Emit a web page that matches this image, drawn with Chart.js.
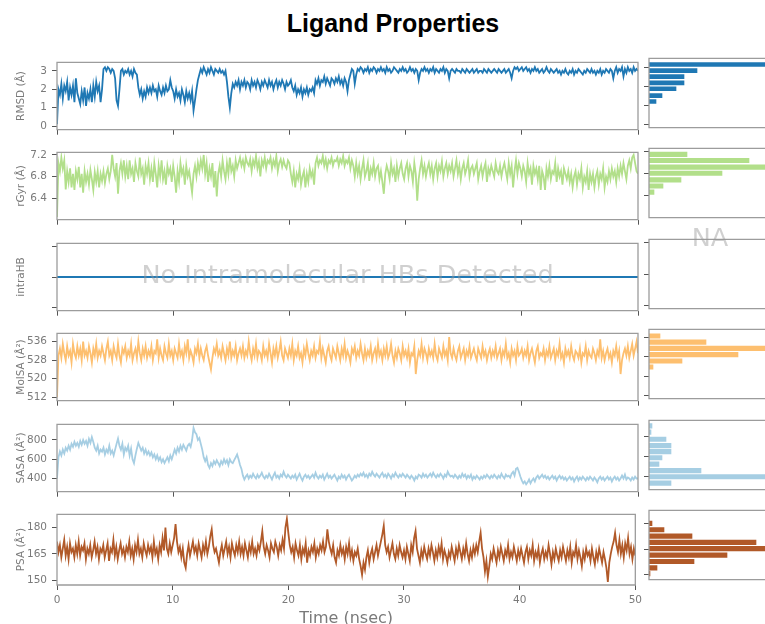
<!DOCTYPE html>
<html>
<head>
<meta charset="utf-8">
<script src="https://cdn.jsdelivr.net/npm/chart.js@4.4.1/dist/chart.umd.min.js"></script>
<style>
  html, body { margin: 0; padding: 0; background: #fff; overflow: hidden; }
  body { width: 765px; height: 624px; position: relative; }
  canvas { position: absolute; }
  #title {
    position: absolute; left: 0; top: 11px; width: 786px; text-align: center;
    font: bold 25px/25px "Liberation Sans", Arial, sans-serif; color: #000;
  }
</style>
</head>
<body>
<div id="title">Ligand Properties</div>
<script>
// time series, one frame every 0.125 ns from 0 to 50 ns (16 frames per row = 2 ns)
const rmsd = [
  0.1, 2.0, 1.7, 2.3, 1.5, 2.2, 1.9, 2.4, 1.4, 2.1, 1.7, 2.2, 1.3, 2.6, 1.8, 1.5,
  1.2, 1.9, 1.4, 2.1, 1.1, 1.8, 1.5, 2.0, 1.3, 2.2, 1.6, 2.4, 1.9, 2.2, 1.3, 2.0,
  3.1, 3.2, 3.0, 3.2, 3.1, 2.9, 3.1, 3.0, 2.6, 1.4, 1.1, 2.0, 3.0, 3.1, 2.8, 3.0,
  2.9, 3.1, 2.8, 3.0, 2.7, 3.1, 2.9, 2.8, 2.1, 1.7, 2.0, 1.5, 1.9, 1.6, 2.1, 1.8,
  2.1, 1.8, 2.2, 1.9, 2.0, 1.6, 2.2, 1.9, 1.7, 2.1, 1.8, 2.2, 1.9, 2.0, 2.5, 2.1,
  1.9, 1.5, 2.0, 1.6, 1.8, 1.4, 2.0, 1.7, 1.3, 1.9, 1.5, 1.8, 1.4, 1.9, 0.85, 1.4,
  2.0, 2.5, 2.8, 3.1, 2.9, 3.2, 3.0, 2.8, 3.1, 2.9, 3.2, 3.0, 2.8, 3.1, 3.0, 2.9,
  3.1, 2.9, 3.0, 2.8, 3.0, 2.4, 1.6, 1.0, 1.8, 2.3, 2.1, 2.4, 2.2, 2.5, 2.0, 2.4,
  2.2, 2.5, 2.1, 2.4, 2.3, 2.0, 2.5, 2.2, 2.4, 2.1, 2.5, 2.3, 2.0, 2.4, 2.2, 2.5,
  2.3, 2.1, 2.5, 2.2, 2.4, 2.0, 2.3, 2.5, 2.1, 2.4, 2.2, 2.5, 2.3, 2.0, 2.4, 2.2,
  2.3, 2.5, 2.1, 1.9, 2.2, 1.7, 2.0, 1.8, 2.1, 1.6, 2.0, 1.8, 2.1, 1.7, 2.0, 1.9,
  2.1, 1.8, 2.5, 2.3, 2.6, 2.2, 2.5, 2.4, 2.7, 2.3, 2.6, 2.4, 2.2, 2.6, 2.5, 2.3,
  2.6, 2.4, 2.7, 2.3, 2.5, 2.2, 2.6, 2.4, 1.9, 2.5, 2.8, 3.1, 3.0, 2.3, 2.8, 3.1,
  3.0, 3.2, 3.1, 2.9, 3.1, 3.0, 3.2, 2.9, 3.1, 3.0, 3.2, 3.1, 2.9, 3.1, 3.0, 3.2,
  3.0, 3.1, 2.9, 3.2, 3.0, 3.1, 2.9, 3.0, 3.2, 3.1, 3.0, 2.9, 3.1, 3.0, 3.2, 3.0,
  3.1, 2.9, 3.0, 3.2, 3.0, 3.1, 2.9, 3.1, 3.0, 2.5, 2.9, 3.1, 3.0, 3.2, 3.0, 3.1,
  2.9, 3.1, 3.0, 3.2, 2.9, 3.1, 3.0, 2.9, 3.1, 3.0, 3.2, 2.9, 3.1, 3.0, 2.6, 3.0,
  3.1, 3.0, 2.9, 3.1, 3.0, 3.0, 2.9, 3.1, 3.0, 2.9, 3.1, 3.0, 2.9, 3.0, 3.1, 2.9,
  3.0, 3.1, 2.9, 3.0, 3.0, 2.9, 3.1, 3.0, 2.9, 3.1, 3.0, 2.9, 3.0, 3.1, 3.0, 2.9,
  3.1, 3.0, 2.9, 3.0, 3.1, 2.9, 3.0, 3.1, 2.9, 2.6, 3.0, 3.2, 3.1, 3.2, 3.0, 3.1,
  3.2, 3.0, 3.1, 3.2, 3.0, 3.1, 2.9, 3.1, 3.0, 3.2, 3.0, 3.1, 2.9, 3.0, 3.1, 2.9,
  3.0, 3.2, 3.0, 2.9, 3.1, 3.0, 2.9, 3.0, 3.1, 2.9, 3.0, 2.8, 3.0, 2.9, 3.1, 2.9,
  2.8, 3.0, 2.9, 3.1, 2.8, 3.0, 2.9, 3.1, 3.0, 2.9, 2.8, 3.0, 2.9, 3.1, 3.0, 2.9,
  3.1, 2.9, 3.0, 2.8, 3.0, 2.9, 3.1, 2.8, 3.0, 2.9, 3.1, 3.0, 2.9, 3.1, 3.0, 2.6,
  3.0, 3.2, 2.9, 3.1, 3.0, 3.2, 2.7, 3.1, 2.9, 3.2, 3.0, 3.1, 2.9, 3.2, 3.0, 3.1,
  3.0
];

const rgyr = [
  6.05, 7.05, 6.9, 7.15, 6.95, 7.1, 6.56, 6.9, 6.7, 6.95, 6.6, 6.85, 6.55, 6.9, 6.75, 6.98,
  6.6, 6.85, 6.5, 6.9, 6.7, 6.85, 6.65, 6.92, 6.75, 6.55, 6.88, 6.7, 6.9, 6.6, 6.85, 6.72,
  6.9, 6.68, 6.85, 6.95, 6.75, 6.9, 7.2, 6.95, 6.8, 7.05, 6.48, 6.9, 7.05, 6.85, 7.1, 6.8,
  7.0, 6.75, 7.1, 6.85, 6.95, 6.7, 7.05, 6.9, 6.8, 7.15, 6.85, 6.95, 6.65, 7.0, 6.85, 7.05,
  6.75, 6.95, 6.7, 7.05, 6.85, 6.6, 7.0, 6.8, 7.1, 6.75, 6.9, 6.65, 7.0, 6.85, 6.95, 6.7,
  7.0, 6.8, 6.5, 6.9, 6.7, 7.05, 6.85, 6.95, 6.65, 7.0, 6.8, 6.9, 6.7, 6.5, 6.85, 7.0,
  6.8, 7.05, 6.9, 7.1, 6.95, 7.2, 6.85, 7.05, 6.7, 6.95, 6.8, 7.05, 6.6, 6.9, 6.43, 6.85,
  7.0, 6.8, 7.1, 6.9, 6.75, 7.05, 6.85, 7.15, 6.9, 7.0, 6.8, 7.1, 6.95, 7.05, 7.15, 7.0,
  7.1, 6.95, 7.15, 7.05, 7.0, 7.12, 6.9, 7.1, 7.0, 7.18, 6.95, 7.08, 6.8, 7.1, 7.0, 7.15,
  6.95, 7.1, 7.05, 7.15, 6.95, 7.1, 7.0, 7.18, 6.9, 7.05, 7.12, 6.98, 7.1, 7.0, 6.95, 7.1,
  7.05, 6.85, 6.7, 6.9, 6.6, 6.85, 6.75, 6.95, 6.65, 6.8, 6.9, 6.6, 6.85, 6.7, 6.95, 6.8,
  6.9, 6.65, 7.05, 7.15, 7.0, 7.1, 7.05, 7.18, 7.0, 7.12, 6.95, 7.1, 7.05, 7.15, 7.0, 7.1,
  7.08, 7.15, 7.0, 7.12, 7.05, 7.18, 7.0, 7.1, 7.05, 7.15, 6.95, 7.1, 7.0, 6.8, 7.05, 6.85,
  7.0, 6.75, 6.95, 7.1, 6.8, 6.9, 7.05, 6.72, 6.95, 6.85, 7.05, 6.8, 6.95, 7.0, 6.75, 6.9,
  6.7, 6.48, 6.85, 7.0, 6.9, 6.75, 7.05, 6.85, 6.95, 6.7, 7.0, 6.8, 6.95, 7.05, 6.85, 6.75,
  6.95, 7.05, 6.8, 7.0, 6.9, 6.7, 7.05, 6.85, 6.35, 6.75, 6.95, 7.1, 6.85, 7.0, 6.8, 6.95,
  7.05, 6.85, 7.0, 6.75, 6.95, 7.05, 6.8, 7.0, 6.9, 7.08, 6.8, 6.95, 7.05, 6.85, 7.0, 6.9,
  7.05, 6.8, 6.95, 7.1, 6.85, 7.0, 6.75, 6.95, 7.05, 6.85, 6.95, 7.1, 6.8, 6.95, 7.0, 6.85,
  6.95, 7.05, 6.75, 6.9, 7.0, 6.8, 6.95, 7.05, 6.7, 6.95, 6.85, 7.0, 6.9, 6.8, 7.05, 6.9,
  6.85, 7.0, 6.8, 6.95, 7.05, 6.9, 6.75, 7.05, 6.85, 7.0, 6.6, 6.9, 7.1, 6.85, 7.05, 6.95,
  6.8, 7.0, 6.9, 6.7, 7.05, 6.85, 6.95, 6.65, 7.0, 6.85, 6.95, 6.75, 7.0, 6.55, 6.9, 6.8,
  6.55, 6.95, 6.8, 7.0, 6.75, 6.9, 6.85, 7.05, 6.7, 6.95, 6.8, 6.9, 6.65, 6.95, 6.85, 6.75,
  6.9, 6.7, 6.85, 6.6, 6.8, 6.9, 6.65, 6.85, 6.75, 6.95, 6.6, 6.8, 6.7, 6.9, 6.55, 6.85,
  6.7, 6.85, 6.6, 6.8, 6.9, 6.65, 6.85, 6.75, 6.95, 6.6, 6.8, 6.7, 6.9, 6.75, 6.95, 6.8,
  6.9, 6.7, 6.95, 6.8, 7.0, 6.85, 7.05, 6.9, 6.75, 7.0, 7.1, 6.95, 7.15, 7.2, 7.05, 6.9,
  6.85
];

// no intramolecular H-bonds: flat zero line
const intraHBTime = [0, 50];
const intraHB = [0, 0];

const molsa = [
  512, 530, 533, 529, 535, 531, 528, 534, 530, 532, 527, 535, 531, 529, 534, 530,
  533, 528, 536, 530, 532, 529, 534, 531, 527, 533, 530, 535, 529, 532, 530, 534,
  531, 528, 533, 536, 530, 532, 528, 534, 531, 529, 535, 530, 527, 533, 531, 534,
  529, 532, 530, 535, 528, 531, 533, 529, 536, 531, 528, 533, 530, 534, 529, 532,
  530, 534, 528, 532, 531, 537, 529, 533, 530, 528, 534, 531, 529, 535, 530, 532,
  528, 533, 531, 529, 535, 530, 532, 528, 534, 531, 537, 529, 532, 530, 527, 533,
  531, 535, 529, 533, 530, 528, 532, 534, 530, 527, 524, 529, 533, 531, 535, 530,
  532, 529, 534, 531, 528, 533, 530, 536, 529, 532, 530, 534, 528, 531, 533, 530,
  534, 529, 532, 530, 536, 531, 528, 533, 530, 535, 529, 532, 531, 528, 534, 530,
  532, 529, 535, 531, 527, 533, 530, 534, 529, 532, 536, 530, 528, 533, 531, 529,
  533, 530, 535, 528, 532, 530, 534, 529, 531, 527, 533, 530, 535, 531, 528, 532,
  530, 534, 529, 532, 531, 536, 529, 533, 530, 527, 532, 534, 530, 528, 533, 531,
  529, 534, 531, 528, 533, 530, 535, 529, 532, 530, 527, 533, 531, 534, 529, 532,
  530, 535, 531, 528, 533, 529, 532, 530, 534, 528, 531, 533, 529, 535, 530, 532,
  528, 533, 530, 534, 529, 531, 535, 530, 527, 532, 529, 533, 531, 528, 534, 530,
  532, 529, 533, 527, 531, 530, 534, 522, 528, 532, 530, 535, 529, 533, 531, 528,
  533, 530, 532, 529, 535, 530, 528, 533, 531, 529, 534, 530, 532, 528, 538, 531,
  529, 533, 530, 528, 532, 534, 529, 531, 533, 528, 532, 530, 534, 529, 531, 533,
  530, 528, 533, 531, 529, 534, 530, 532, 528, 531, 533, 529, 532, 530, 534, 529,
  531, 533, 528, 532, 530, 535, 529, 531, 527, 533, 530, 532, 528, 534, 530, 531,
  533, 529, 532, 530, 534, 528, 531, 533, 530, 527, 532, 534, 529, 531, 530, 533,
  528, 532, 530, 534, 529, 531, 533, 528, 532, 530, 535, 529, 531, 527, 533, 530,
  532, 529, 534, 530, 528, 532, 531, 529, 533, 527, 531, 530, 534, 528, 532, 530,
  529, 533, 531, 528, 532, 530, 537, 529, 532, 528, 531, 533, 529, 531, 527, 532,
  530, 534, 529, 532, 522, 528, 531, 533, 530, 534, 529, 532, 535, 530, 533, 536,
  531
];

const sasa = [
  400, 620, 680, 640, 700, 660, 720, 690, 740, 700, 760, 730, 780, 740, 770, 730,
  790, 750, 800, 760, 790, 740, 810, 770, 830, 780, 720, 690, 740, 660, 700, 680,
  720, 650, 700, 670, 740, 660, 690, 640, 700, 760, 815, 740, 700, 760, 650, 720,
  690, 740, 640, 710, 600, 560, 640, 710, 770, 730, 690, 720, 660, 700, 650, 680,
  640, 670, 620, 650, 600, 640, 590, 620, 570, 600, 560, 590, 620, 580, 640, 600,
  650, 700, 660, 720, 680, 740, 700, 750, 720, 690, 740, 760, 730, 800, 925, 880,
  860, 800, 820, 760, 700, 620, 580, 620, 540, 510, 560, 530, 580, 550, 590, 560,
  530, 580, 550, 600, 560, 590, 540, 600, 570, 560, 590, 620, 650, 600, 540, 500,
  430, 390, 420, 440, 400, 430, 410, 450, 420, 400, 440, 410, 430, 460, 420, 400,
  430, 410, 450, 420, 390, 430, 460, 410, 430, 400, 440, 420, 470, 430, 410, 440,
  420, 400, 430, 410, 440, 390, 420, 450, 410, 380, 420, 440, 410, 430, 400, 420,
  440, 410, 460, 420, 400, 430, 410, 440, 390, 420, 450, 410, 430, 400, 420, 440,
  410, 380, 420, 400, 440, 410, 430, 390, 420, 440, 410, 380, 400, 430, 410, 440,
  420, 450, 430, 460, 420, 440, 410, 450, 430, 470, 440, 420, 450, 430, 410, 440,
  460, 420, 440, 410, 450, 430, 400, 440, 420, 460, 430, 410, 440, 420, 450, 430,
  410, 440, 420, 400, 430, 410, 380, 420, 400, 440, 430, 410, 450, 420, 440, 410,
  430, 450, 420, 460, 430, 410, 440, 420, 450, 430, 400, 440, 420, 470, 440, 420,
  430, 410, 440, 420, 400, 430, 410, 450, 420, 440, 400, 430, 410, 440, 390, 420,
  400, 430, 410, 390, 420, 400, 430, 410, 440, 420, 400, 430, 410, 440, 420, 400,
  430, 410, 450, 420, 400, 440, 420, 430, 410, 450, 470, 430, 500, 510, 470, 420,
  380, 350, 370, 340, 360, 390, 350, 380, 400, 370, 410, 430, 400, 420, 440, 410,
  430, 400, 420, 390, 410, 430, 400, 420, 380, 410, 430, 400, 420, 390, 410, 380,
  400, 420, 390, 410, 370, 400, 420, 380, 410, 390, 420, 400, 380, 410, 390, 420,
  400, 380, 410, 390, 360, 400, 420, 390, 410, 380, 400, 420, 390, 410, 370, 400,
  420, 390, 410, 380, 400, 430, 400, 440, 390, 410, 400, 380, 410, 390, 420, 400,
  400
];

const psa = [
  172, 166, 170, 163, 168, 173, 164, 169, 162, 171, 166, 168, 163, 170, 165, 172,
  164, 169, 167, 171, 162, 168, 165, 170, 163, 167, 172, 165, 169, 162, 168, 166,
  170, 163, 167, 171, 161, 168, 166, 173, 164, 169, 162, 167, 171, 165, 168, 163,
  169, 166, 172, 164, 168, 162, 170, 166, 173, 165, 168, 163, 171, 167, 164, 170,
  166, 169, 163, 172, 165, 168, 162, 170, 166, 174, 167, 180, 168, 165, 171, 166,
  170, 174, 182, 172, 166, 169, 163, 168, 160, 157, 165, 170, 164, 168, 172, 166,
  169, 164, 171, 167, 163, 170, 166, 172, 165, 169, 175, 179, 170, 166, 168, 164,
  160, 166, 170, 164, 168, 172, 165, 169, 163, 171, 167, 164, 170, 166, 172, 165,
  169, 164, 171, 167, 163, 170, 166, 172, 165, 168, 164, 170, 167, 172, 178, 169,
  165, 170, 167, 163, 171, 168, 166, 172, 169, 164, 170, 167, 173, 168, 180, 185,
  177, 170, 166, 169, 163, 171, 167, 164, 170, 162, 168, 165, 171, 160, 167, 164,
  169, 166, 171, 163, 168, 165, 170, 167, 172, 166, 169, 179, 172, 168, 165, 170,
  163, 160, 167, 164, 170, 165, 168, 162, 169, 165, 171, 163, 167, 161, 166, 164,
  168, 162, 158, 153, 160, 156, 163, 167, 160, 165, 168, 162, 166, 170, 164, 168,
  172, 176, 181, 170, 166, 169, 163, 167, 171, 165, 162, 168, 164, 170, 166, 163,
  167, 162, 169, 165, 161, 170, 166, 174, 178, 168, 164, 160, 167, 163, 169, 165,
  162, 168, 164, 170, 166, 161, 167, 163, 169, 165, 171, 162, 167, 164, 160, 166,
  163, 169, 165, 161, 168, 164, 170, 166, 162, 168, 164, 171, 165, 161, 167, 163,
  169, 165, 170, 166, 172, 177, 168, 163, 155, 161, 152, 158, 165, 162, 168, 164,
  160, 167, 163, 169, 165, 161, 167, 164, 170, 162, 166, 163, 169, 165, 161, 167,
  163, 168, 164, 160, 166, 169, 162, 167, 164, 170, 161, 166, 163, 168, 160, 165,
  168, 162, 166, 163, 170, 165, 159, 166, 162, 168, 164, 161, 167, 163, 169, 165,
  161, 167, 163, 169, 160, 166, 164, 170, 162, 167, 163, 158, 166, 162, 168, 164,
  166, 161, 168, 163, 159, 166, 162, 168, 164, 160, 166, 162, 157, 149, 160, 165,
  169, 172, 177, 170, 166, 173, 165, 170, 163, 171, 167, 174, 165, 169, 162, 168,
  164
];

// histograms: bin centre and frame count
const rmsdBins = [1.19, 1.50, 1.86, 2.17, 2.50, 2.82, 3.14];
const rmsdCounts = [7, 13, 27, 35, 35, 48, 160];
const rgyrBins = [6.46, 6.57, 6.68, 6.80, 6.91, 7.03, 7.14];
const rgyrCounts = [5, 14, 32, 73, 160, 100, 38];
const molsaBins = [523.8, 526.3, 529.0, 531.6, 534.2, 536.8];
const molsaCounts = [4, 33, 89, 160, 57, 11];
const sasaBins = [330, 394, 456, 521, 585, 647, 708, 772, 843, 906];
const sasaCounts = [22, 160, 52, 10, 13, 22, 22, 17, 2, 3];
const psaBins = [150.7, 154.1, 157.8, 161.5, 165.3, 168.9, 172.6, 176.3, 180.0];
const psaCounts = [1, 8, 45, 78, 160, 107, 43, 15, 3];

// tick values
const timeTicks = [0, 10, 20, 30, 40, 50];
const rmsdTicks = [0, 1, 2, 3];
const rgyrTicks = [6.4, 6.8, 7.2];
const intraHBTicks = [-0.05, 0, 0.05];
const molsaTicks = [512, 520, 528, 536];
const sasaTicks = [400, 600, 800];
const psaTicks = [150, 165, 180];

Chart.defaults.font.family = '"DejaVu Sans", sans-serif';
Chart.defaults.color = '#7a7a7a';

const PANEL_TOPS = [57, 147, 238, 328, 419, 509];
const PANEL_H = 76;

// axes spines; histograms are cut off at the right edge
const frame = {
  id: 'frame',
  afterDatasetsDraw(chart, args, opts) {
    const { ctx, chartArea: a } = chart;
    ctx.save();
    ctx.strokeStyle = '#9c9c9c';
    ctx.lineWidth = 1.3;
    ctx.beginPath();
    ctx.moveTo(a.right, a.top);
    ctx.lineTo(a.left, a.top);
    ctx.lineTo(a.left, a.bottom);
    ctx.lineTo(a.right, a.bottom);
    if (!opts.open) ctx.closePath();
    ctx.stroke();
    ctx.restore();
  }
};

const note = {
  id: 'note',
  afterDraw(chart, args, opts) {
    if (!opts.text) return;
    const { ctx, chartArea: a } = chart;
    ctx.save();
    ctx.font = '25.5px "DejaVu Sans"';
    ctx.fillStyle = 'rgba(150,150,150,0.45)';
    ctx.textAlign = 'center';
    ctx.fillText(opts.text, opts.x != null ? opts.x : (a.left + a.right) / 2, a.top + opts.dy);
    ctx.restore();
  }
};

function addCanvas(left, top, width, height) {
  const c = document.createElement('canvas');
  c.width = width;
  c.height = height;
  c.style.left = left + 'px';
  c.style.top = top + 'px';
  c.style.width = width + 'px';
  c.style.height = height + 'px';
  document.body.appendChild(c);
  return c;
}

function fixedTicks(values) {
  return (scale) => { scale.ticks = values.map((v) => ({ value: v })); };
}

function yAxis(min, max, ticks, width, labels, title) {
  return {
    type: 'linear', min, max, bounds: 'data', offset: false,
    afterBuildTicks: fixedTicks(ticks),
    afterFit: (s) => { s.width = width; },
    grid: { drawOnChartArea: false, offset: false, tickLength: 5, tickColor: '#555' },
    border: { display: false },
    ticks: { font: { size: 10.5 }, padding: 5, callback: (v) => (labels ? String(v) : '') },
    title: { display: !!title, text: title, font: { size: 10.5 }, padding: { top: 14.7, bottom: 0 } },
  };
}

function lineChart(row, opts) {
  const last = row === PANEL_TOPS.length - 1;
  const top = PANEL_TOPS[row] - 6;
  const xh = last ? 640 - top - PANEL_H - 6 : 8;
  const canvas = addCanvas(0, top, 646, PANEL_H + 6 + xh);
  const time = opts.time || opts.values.map((_, i) => (i * 50) / (opts.values.length - 1));
  return new Chart(canvas, {
    type: 'line',
    data: {
      datasets: [{
        data: opts.values.map((v, i) => ({ x: time[i], y: v })),
        borderColor: opts.color,
        borderWidth: 1.8,
        pointRadius: 0,
        tension: 0,
        fill: false,
      }],
    },
    options: {
      responsive: false,
      animation: false,
      events: [],
      layout: { padding: { top: 6, right: 8, left: 0, bottom: 0 } },
      scales: {
        x: {
          type: 'linear', min: 0, max: 50, bounds: 'data',
          afterBuildTicks: fixedTicks(timeTicks),
          afterFit: (s) => { s.height = xh; },
          grid: { drawOnChartArea: false, tickLength: 5, tickColor: '#555' },
          border: { display: false },
          ticks: {
            font: { size: 10.5 }, padding: 4, maxRotation: 0, autoSkip: false,
            callback: (v) => (last ? String(v) : ''),
          },
          title: {
            display: last, text: 'Time (nsec)', font: { size: 16 },
            padding: { top: 0, bottom: 12 },
          },
        },
        y: yAxis(opts.min, opts.max, opts.ticks, 57, opts.labels !== false, opts.title),
      },
      plugins: {
        legend: { display: false },
        tooltip: { enabled: false },
        frame: { open: false },
        note: opts.note || {},
      },
    },
    plugins: [frame, note],
  });
}

function histChart(row, opts) {
  const top = PANEL_TOPS[row] - 10;
  const canvas = addCanvas(640, top, 130, PANEL_H + 16);
  const bins = opts.bins || [];
  return new Chart(canvas, {
    type: 'bar',
    data: {
      datasets: [{
        data: bins.map((b, i) => ({ x: opts.counts[i], y: b })),
        backgroundColor: opts.color,
        borderWidth: 0,
        barThickness: opts.thickness || 4.5,
      }],
    },
    options: {
      indexAxis: 'y',
      responsive: false,
      animation: false,
      events: [],
      layout: { padding: { top: 10, right: 5, left: 0, bottom: 6 } },
      scales: {
        x: { type: 'linear', display: false, min: 0, max: 116 },
        y: yAxis(opts.min, opts.max, opts.ticks, 9, false, ''),
      },
      plugins: {
        legend: { display: false },
        tooltip: { enabled: false },
        frame: { open: true },
        note: opts.note || {},
      },
    },
    plugins: [frame, note],
  });
}

lineChart(0, { values: rmsd, color: '#1f78b4', min: -0.193, max: 3.467, ticks: rmsdTicks, title: 'RMSD (Å)' });
lineChart(1, { values: rgyr, color: '#b2df8a', min: 6.0, max: 7.249, ticks: rgyrTicks, title: 'rGyr (Å)' });
lineChart(2, {
  values: intraHB, time: intraHBTime, color: '#1f78b4', min: -0.055, max: 0.055,
  ticks: intraHBTicks, labels: false, title: 'intraHB',
  note: { text: 'No Intramolecular HBs Detected', dy: 40 },
});
lineChart(3, { values: molsa, color: '#fdbf6f', min: 510.5, max: 539.6, ticks: molsaTicks, title: 'MolSA (Å²)' });
lineChart(4, { values: sasa, color: '#a6cee3', min: 263, max: 963, ticks: sasaTicks, title: 'SASA (Å²)' });
lineChart(5, { values: psa, color: '#b15928', min: 147.2, max: 187.6, ticks: psaTicks, title: 'PSA (Å²)' });

histChart(0, { bins: rmsdBins, counts: rmsdCounts, color: '#1f78b4', thickness: 4, min: -0.193, max: 3.467, ticks: rmsdTicks });
histChart(1, { bins: rgyrBins, counts: rgyrCounts, color: '#b2df8a', min: 6.0, max: 7.249, ticks: rgyrTicks });
histChart(2, { min: -0.055, max: 0.055, ticks: intraHBTicks, counts: [], note: { text: 'NA', x: 70, dy: 6.7 } });
histChart(3, { bins: molsaBins, counts: molsaCounts, color: '#fdbf6f', min: 510.5, max: 539.6, ticks: molsaTicks });
histChart(4, { bins: sasaBins, counts: sasaCounts, color: '#a6cee3', min: 263, max: 963, ticks: sasaTicks });
histChart(5, { bins: psaBins, counts: psaCounts, color: '#b15928', min: 147.2, max: 187.6, ticks: psaTicks });
</script>
</body>
</html>
